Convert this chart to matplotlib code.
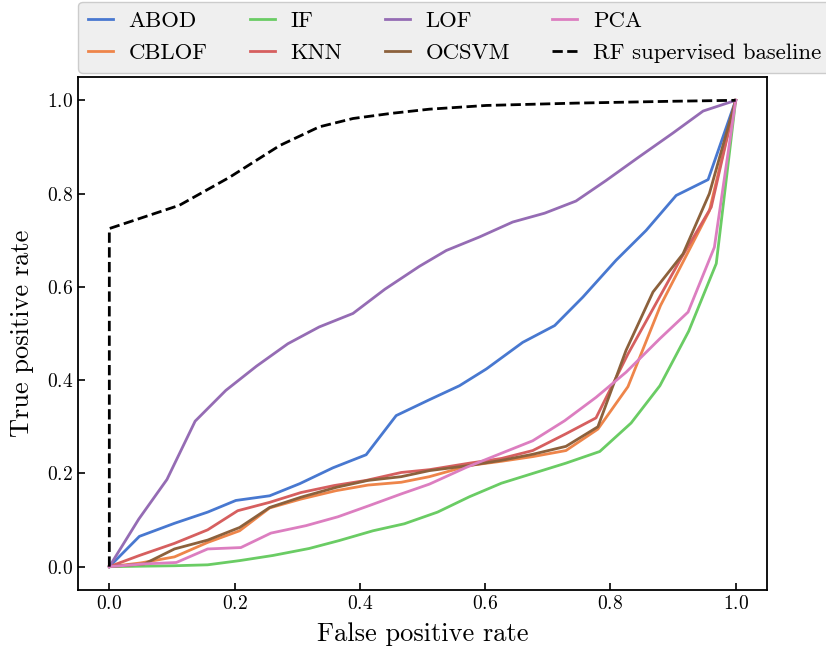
import matplotlib
matplotlib.use("Agg")
import matplotlib.pyplot as plt

plt.rcParams['font.family'] = 'serif'
plt.rcParams['font.serif'] = ['cmr10', 'DejaVu Serif']
plt.rcParams['mathtext.fontset'] = 'cm'
plt.rcParams['axes.unicode_minus'] = False
plt.rcParams['axes.formatter.use_mathtext'] = True

# ---- data ----
abod_fpr = [0, .048, .104, .157, .202, .256, .304, .357, .41, .458, .511, .559, .602, .660, .711, .756, .809, .857, .905, .956, 1.0]
abod_tpr = [0, .065, .093, .117, .142, .152, .178, .212, .240, .324, .358, .388, .424, .481, .517, .578, .657, .721, .796, .830, 1.0]

cblof_fpr = [0, .05, .104, .157, .208, .256, .306, .362, .413, .466, .511, .575, .626, .676, .729, .780, .828, .88, .958, 1.0]
cblof_tpr = [0, .008, .021, .052, .077, .126, .145, .163, .175, .181, .193, .217, .226, .236, .249, .295, .386, .56, .763, 1.0]

if_fpr = [0, .05, .104, .157, .208, .261, .319, .367, .421, .471, .524, .575, .626, .681, .729, .783, .833, .879, .925, .969, 1.0]
if_tpr = [0, .001, .002, .004, .013, .024, .039, .056, .077, .092, .117, .150, .179, .202, .222, .247, .308, .388, .505, .650, 1.0]

knn_fpr = [0, .048, .104, .157, .205, .256, .306, .359, .41, .466, .511, .575, .626, .676, .729, .777, .828, .911, .961, 1.0]
knn_tpr = [0, .024, .050, .079, .120, .138, .159, .174, .185, .202, .208, .222, .232, .249, .285, .319, .456, .657, .771, 1.0]

lof_fpr = [0, .047, .092, .137, .186, .235, .285, .335, .389, .44, .495, .538, .591, .644, .695, .745, .793, .845, .9, .948, 1.0]
lof_tpr = [0, .102, .187, .312, .378, .43, .478, .514, .543, .595, .644, .678, .707, .739, .758, .784, .828, .878, .93, .977, 1.0]

ocsvm_fpr = [0, .056, .104, .157, .208, .256, .306, .362, .413, .466, .511, .575, .626, .676, .729, .780, .825, .868, .916, .958, 1.0]
ocsvm_tpr = [0, .006, .038, .057, .084, .127, .149, .170, .185, .193, .206, .217, .228, .241, .258, .300, .464, .589, .671, .800, 1.0]

pca_fpr = [0, .056, .107, .157, .210, .258, .314, .365, .415, .466, .511, .570, .620, .676, .727, .777, .825, .879, .924, .966, 1.0]
pca_tpr = [0, .006, .009, .038, .041, .072, .088, .107, .131, .156, .177, .213, .240, .270, .313, .363, .417, .489, .546, .685, 1.0]

rf_fpr = [0, 0, .112, .192, .272, .335, .389, .45, .511, .602, .745, .9, 1.0]
rf_tpr = [0, .725, .775, .835, .903, .943, .961, .972, .981, .989, .994, .998, 1.0]

series = [
    ("ABOD", abod_fpr, abod_tpr, "#4878d0"),
    ("CBLOF", cblof_fpr, cblof_tpr, "#ee854a"),
    ("IF", if_fpr, if_tpr, "#6acc64"),
    ("KNN", knn_fpr, knn_tpr, "#d65f5f"),
    ("LOF", lof_fpr, lof_tpr, "#956cb4"),
    ("OCSVM", ocsvm_fpr, ocsvm_tpr, "#8c613c"),
    ("PCA", pca_fpr, pca_tpr, "#dc7ec0"),
]

fig = plt.figure(figsize=(8.26, 6.51), dpi=100)
ax = fig.add_axes([78/826, 1-590/651, (767-78)/826, (590-77)/651])

for name, x, y, c in series:
    ax.plot(x, y, color=c, lw=2.0, label=name)
ax.plot(rf_fpr, rf_tpr, color='black', lw=2.0, ls='--', label='RF supervised baseline')

ax.set_xlim(-0.05, 1.05)
ax.set_ylim(-0.05, 1.05)
ax.set_xticks([0, 0.2, 0.4, 0.6, 0.8, 1.0])
ax.set_yticks([0, 0.2, 0.4, 0.6, 0.8, 1.0])
ax.tick_params(direction='in', labelsize=14, length=5, width=1.2)
for s in ax.spines.values():
    s.set_linewidth(1.3)
ax.set_xlabel('False positive rate', fontsize=19, labelpad=7)
ax.set_ylabel('True positive rate', fontsize=19, labelpad=9)

leg = ax.legend(ncol=4, loc='lower left', bbox_to_anchor=(78/826, 1-73/651),
                bbox_transform=fig.transFigure, fontsize=16.4, handlelength=1.1,
                handletextpad=0.7, columnspacing=1.85, labelspacing=0.54,
                frameon=True, fancybox=True, borderpad=0.42, borderaxespad=0)
leg.get_frame().set_facecolor('#efefef')
leg.get_frame().set_edgecolor('#cccccc')
leg.get_frame().set_alpha(1.0)

fig.savefig('out.png', dpi=100)
